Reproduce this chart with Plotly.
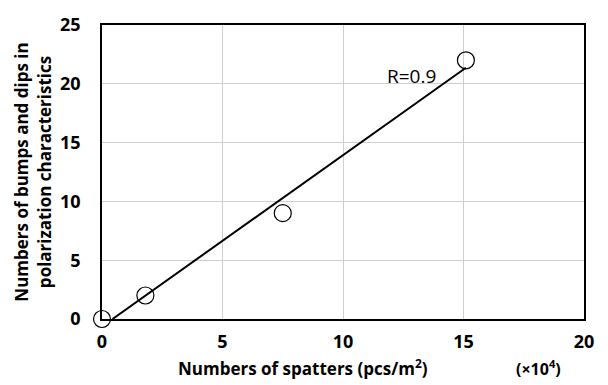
import numpy as np
import plotly.graph_objects as go

spatters = [0, 1.8, 7.5, 15.1]          # x10^4 pcs/m^2
bumps = [0, 2, 9, 22]
x_ticks = [0, 5, 10, 15, 20]
y_ticks = [0, 5, 10, 15, 20, 25]
r_label = "R=0.9"

slope, intercept = np.polyfit(spatters, bumps, 1)
x0 = -intercept / slope
trend_x = [x0, max(spatters)]
trend_y = [slope * v + intercept for v in trend_x]

fig = go.Figure()
fig.add_trace(go.Scatter(x=trend_x, y=trend_y, mode="lines",
                         line=dict(color="black", width=2), showlegend=False,
                         cliponaxis=False))
fig.add_trace(go.Scatter(x=spatters, y=bumps, mode="markers",
                         marker=dict(symbol="circle-open", size=17,
                                     color="black", line=dict(width=1.2)),
                         showlegend=False, cliponaxis=False))

fig.add_annotation(x=12.85, y=20.7, text=r_label, showarrow=False,
                   font=dict(family="Open Sans", size=19, color="black"),
                   xanchor="center", yanchor="middle")
fig.add_annotation(xref="paper", yref="paper", x=0.905, y=-0.165,
                   text="<b>(×10<sup>4</sup>)</b>", showarrow=False,
                   font=dict(family="Open Sans", size=16, color="black"),
                   xanchor="center", yanchor="middle")
fig.add_annotation(xref="paper", yref="paper", x=0.418, y=-0.165,
                   text="<b>Numbers of spatters (pcs/m<sup>2</sup>)</b>",
                   showarrow=False,
                   font=dict(family="Open Sans", size=17, color="black"),
                   xanchor="center", yanchor="middle")
fig.add_annotation(xref="paper", yref="paper", x=-0.143, y=0.498,
                   text="<b>Numbers of bumps and dips in<br>polarization characteristics</b>",
                   showarrow=False, textangle=-90,
                   font=dict(family="Open Sans", size=17, color="black"),
                   xanchor="center", yanchor="middle")

fig.update_layout(
    width=608, height=385,
    margin=dict(l=102, r=24, t=16, b=66),
    paper_bgcolor="white", plot_bgcolor="white",
    font=dict(family="Open Sans", color="black"),
    xaxis=dict(range=[0, 20], tickvals=x_ticks,
               ticktext=[f"<b>{v}</b>" for v in x_ticks],
               tickfont=dict(size=18), showgrid=True, gridcolor="#cfcfcf",
               gridwidth=1, showline=True, linecolor="black", linewidth=1.5,
               mirror=True, zeroline=False, ticks="", ticklen=0,
               ticklabelstandoff=6),
    yaxis=dict(range=[0, 25], tickvals=y_ticks,
               ticktext=[f"<b>{v}</b>" for v in y_ticks],
               tickfont=dict(size=18), showgrid=True, gridcolor="#cfcfcf",
               gridwidth=1, showline=True, linecolor="black", linewidth=1.5,
               mirror=True, zeroline=False, ticks="", ticklen=0,
               ticklabelstandoff=16),
)

fig.write_html("out.html")
